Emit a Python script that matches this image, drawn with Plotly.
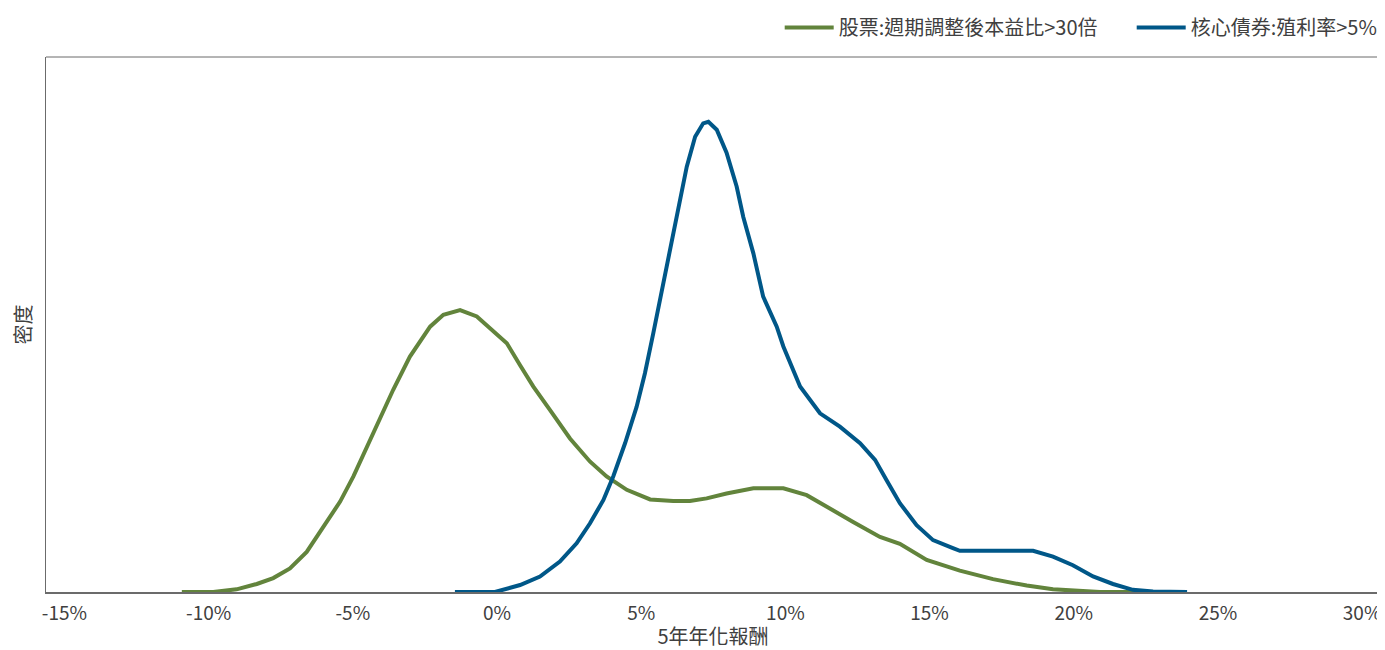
import plotly.graph_objects as go

# ---- data ----
equity_name = "股票:週期調整後本益比>30倍"
equity_x = [-10.93, -9.84, -9.03, -8.33, -7.76, -7.18, -6.60, -6.02, -5.44, -4.98, -4.40,
            -3.94, -3.60, -3.02, -2.32, -1.86, -1.28, -0.70, -0.13, 0.34, 0.80, 1.26,
            1.84, 2.53, 3.22, 3.80, 4.50, 5.31, 6.11, 6.69, 7.27, 7.96, 8.89, 9.93,
            10.74, 11.43, 12.35, 13.28, 13.97, 14.90, 16.05, 17.20, 18.37, 19.28,
            20.45, 20.91, 22.47]
equity_y = [0.0, 0.0, 0.5, 1.5, 2.6, 4.4, 7.5, 12.2, 16.9, 21.6, 28.4,
            33.4, 37.8, 44.0, 49.6, 51.8, 52.7, 51.5, 48.7, 46.5, 42.4, 38.4,
            34.0, 28.7, 24.4, 21.6, 19.1, 17.3, 17.0, 17.0, 17.5, 18.4, 19.4, 19.4,
            18.1, 15.9, 13.1, 10.3, 9.0, 6.0, 4.0, 2.4, 1.2, 0.5,
            0.1, 0.0, 0.0]

bond_name = "核心債券:殖利率>5%"
bond_x = [-1.46, -0.07, 0.80, 1.49, 2.18, 2.76, 3.22, 3.69, 4.03, 4.44, 4.84, 5.13,
          5.42, 5.71, 6.00, 6.29, 6.58, 6.87, 7.15, 7.33, 7.62, 7.96, 8.31, 8.54,
          8.89, 9.23, 9.70, 9.93, 10.51, 11.20, 11.89, 12.59, 13.11, 13.51, 13.97,
          14.55, 15.12, 15.81, 16.05, 18.59, 19.28, 19.97, 20.67, 21.36, 22.05,
          22.75, 23.93]
bond_y = [0.0, 0.0, 1.3, 2.9, 5.7, 9.1, 12.8, 17.2, 21.6, 27.8, 34.6, 40.9,
          48.4, 56.4, 63.9, 72.0, 79.5, 85.1, 87.6, 87.9, 86.4, 82.1, 75.8, 70.1,
          63.3, 55.2, 49.6, 45.9, 38.4, 33.4, 30.9, 27.8, 24.7, 20.9, 16.6,
          12.5, 9.7, 8.2, 7.7, 7.7, 6.6, 5.0, 2.9, 1.5, 0.4,
          0.1, 0.0]

tick_vals = [-15, -10, -5, 0, 5, 10, 15, 20, 25, 30]
tick_text = ["-15%", "-10%", "-5%", "0%", "5%", "10%", "15%", "20%", "25%", "30%"]

x_title = "5年年化報酬"
y_title = "密度"

GREEN = "#62843c"
BLUE = "#005788"
TEXT = "#404040"
AXIS = "#6b6b6b"
FONT = "Noto Sans CJK TC, Noto Sans, sans-serif"

fig = go.Figure()
fig.add_trace(go.Scatter(x=equity_x, y=equity_y, mode="lines", name=equity_name,
                         line=dict(color=GREEN, width=4)))
fig.add_trace(go.Scatter(x=bond_x, y=bond_y, mode="lines", name=bond_name,
                         line=dict(color=BLUE, width=4)))

fig.update_layout(
    width=1377, height=642,
    margin=dict(l=38, r=5, t=49, b=58, autoexpand=False),
    paper_bgcolor="white", plot_bgcolor="white",
    font=dict(family=FONT, size=19, color=TEXT),
    showlegend=True,
    legend=dict(orientation="h", x=0.550, xanchor="left", y=1.0916, yanchor="top",
                font=dict(family=FONT, size=20, color=TEXT),
                entrywidth=288, entrywidthmode="pixels",
                itemwidth=49, bgcolor="rgba(0,0,0,0)", traceorder="normal"),
    xaxis=dict(range=[-15.64, 30.62], tickvals=tick_vals, ticktext=tick_text,
               showgrid=False, zeroline=False, showline=True, linecolor=AXIS,
               linewidth=2, mirror=False, ticks="", automargin=False,
               ticklabelstandoff=3,
               tickfont=dict(family=FONT, size=19, color=TEXT),
               title=dict(text=x_title, standoff=6,
                          font=dict(family=FONT, size=20, color=TEXT))),
    yaxis=dict(range=[0, 100], showgrid=False, zeroline=False, showticklabels=False,
               showline=True, linecolor=AXIS, linewidth=1, mirror=True, ticks="",
               automargin=False,
               title=dict(text=y_title, standoff=11,
                          font=dict(family=FONT, size=20, color=TEXT))),
    shapes=[dict(type="line", xref="paper", yref="paper", x0=0, x1=1, y0=1, y1=1,
                 line=dict(color=AXIS, width=1))],
)

fig.write_html("out.html")
